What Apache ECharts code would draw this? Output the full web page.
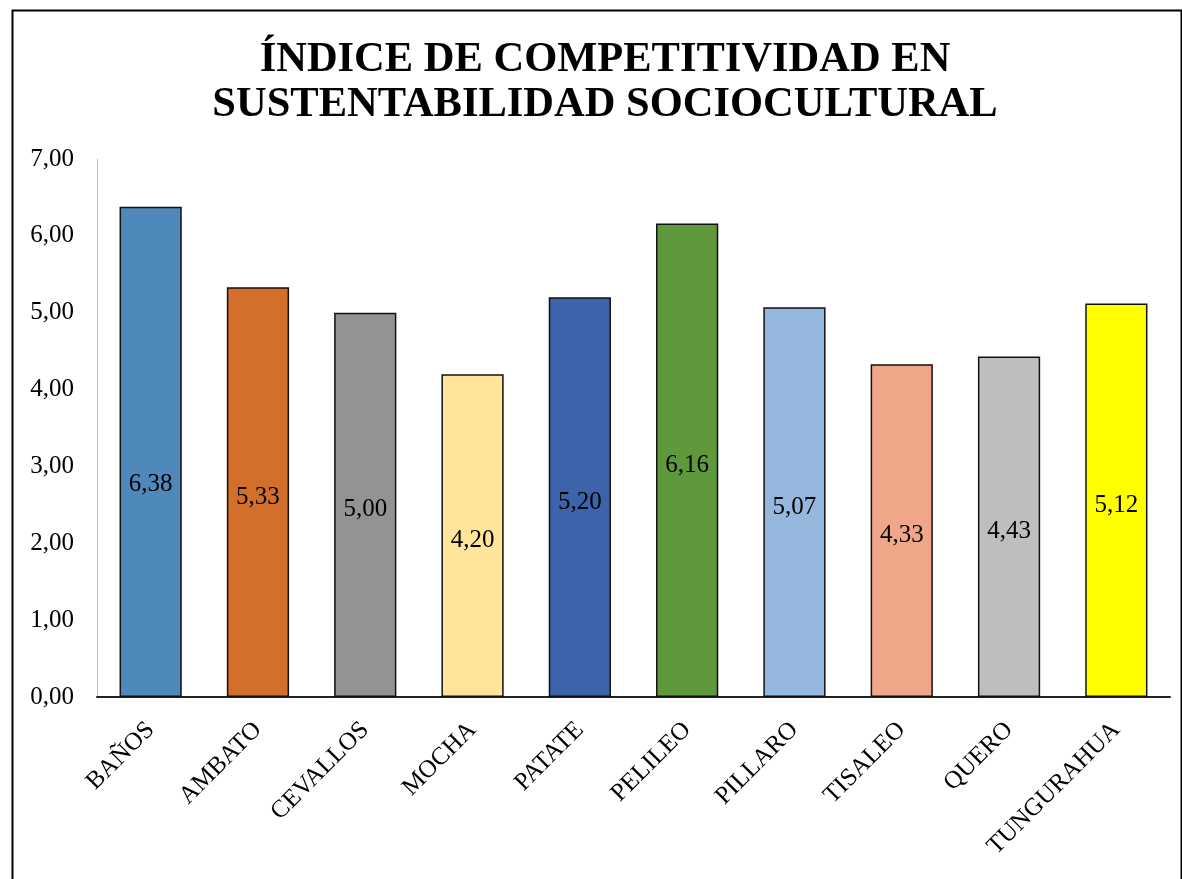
<!DOCTYPE html>
<html>
<head>
<meta charset="utf-8">
<script src="https://cdn.jsdelivr.net/npm/echarts@6/dist/echarts.min.js"></script>
<style>
html,body{margin:0;padding:0;background:#fff;}
#chart{width:1182px;height:879px;}
</style>
</head>
<body>
<div id="chart"></div>
<script>
const categories = ['BAÑOS','AMBATO','CEVALLOS','MOCHA','PATATE','PELILEO','PILLARO','TISALEO','QUERO','TUNGURAHUA'];
const values = [6.38, 5.33, 5.00, 4.20, 5.20, 6.16, 5.07, 4.33, 4.43, 5.12];
const barColors = ['#4F89BC','#D36F2A','#939393','#FFE499','#3D64AA','#5F993C','#97B8DE','#F0A789','#BEBEBE','#FFFF00'];
const labelOffsets = [[0,33],[0,5],[0,5],[0,5],[0,5],[0,5],[0,5],[0,5],[0,5],[0,5]];
const titleLines = ['ÍNDICE DE COMPETITIVIDAD EN','SUSTENTABILIDAD SOCIOCULTURAL'];
const yTicks = [0,1,2,3,4,5,6,7];

const fmt = v => v.toFixed(2).replace('.', ',');
const serif = '"Liberation Serif","Times New Roman",serif';

const chart = echarts.init(document.getElementById('chart'));
chart.setOption({
  animation: false,
  backgroundColor: '#fff',
  title: {
    text: titleLines.join('\n'),
    left: 605,
    textAlign: 'center',
    top: 38,
    padding: 0,
    textStyle: {fontFamily: serif, fontWeight: 'bold', fontSize: 42.5, lineHeight: 45, color: '#000'}
  },
  graphic: [{
    type: 'rect', left: 10, top: 8, silent: true,
    shape: {width: 1169, height: 900},
    style: {fill: 'none', stroke: '#000', lineWidth: 2}
  }],
  grid: {left: 97, right: 12, top: 159, bottom: 182},
  xAxis: {
    type: 'category',
    data: categories,
    axisLine: {lineStyle: {color: '#222', width: 2}},
    axisTick: {show: false},
    axisLabel: {rotate: 45, margin: 29, fontFamily: serif, fontSize: 25, color: '#000', interval: 0}
  },
  yAxis: {
    type: 'value', min: yTicks[0], max: yTicks[yTicks.length-1], interval: 1,
    axisLine: {show: true, lineStyle: {color: '#BFBFBF', width: 1}},
    axisTick: {show: false},
    splitLine: {show: false},
    axisLabel: {margin: 23, fontFamily: serif, fontSize: 25, color: '#000', formatter: v => fmt(v)}
  },
  series: [{
    type: 'bar',
    barWidth: '58%',
    data: values.map((v, i) => ({
      value: v,
      itemStyle: {color: barColors[i]},
      label: {offset: labelOffsets[i]}
    })),
    itemStyle: {borderColor: '#111', borderWidth: 1.5},
    label: {show: true, position: 'inside', fontFamily: serif, fontSize: 25, color: '#000', formatter: p => fmt(p.value)}
  }]
});
</script>
</body>
</html>
